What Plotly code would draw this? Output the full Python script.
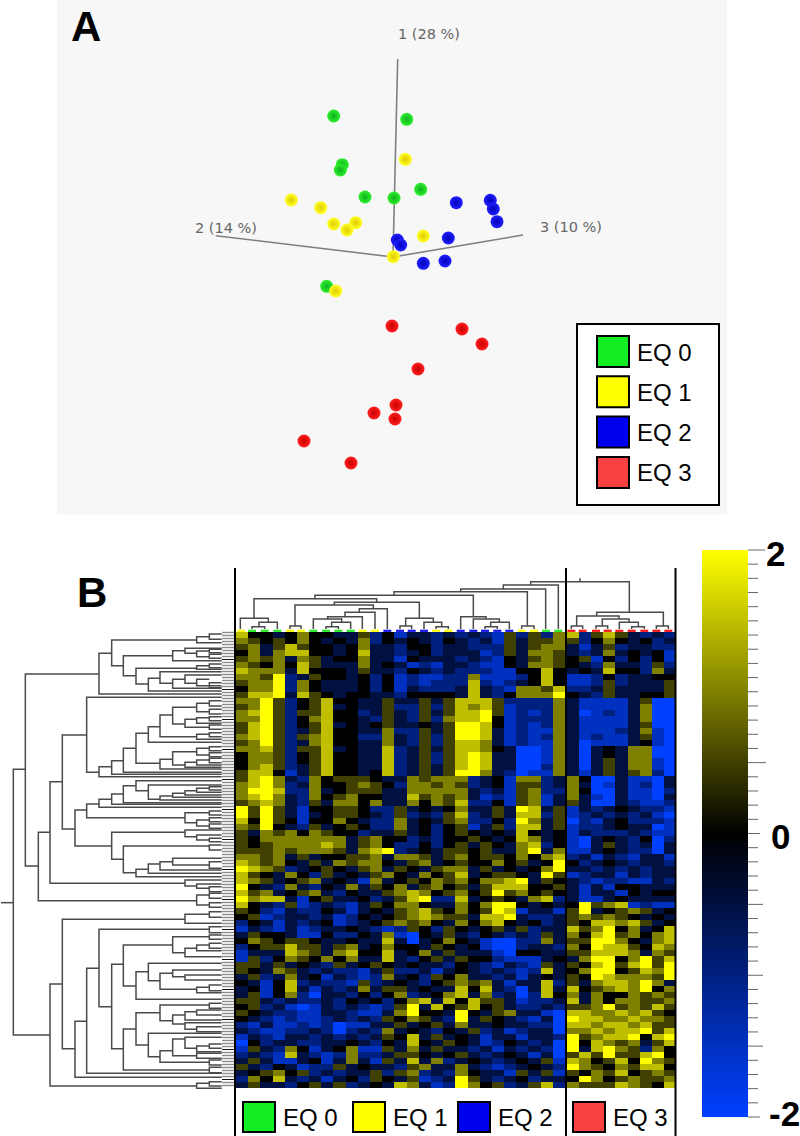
import plotly.graph_objects as go

# ---- panel A: PCA scores, read in page units
GREEN_X = [333.7, 406.7, 342.3, 340.3, 365, 394, 420.7, 326.7]
GREEN_Y = [116, 119.3, 164.7, 170, 197, 198, 189.3, 286.3]
YELLOW_X = [405.3, 291.3, 320.7, 333.7, 355.7, 347, 423.3, 393.3, 335.7]
YELLOW_Y = [159.3, 200, 207.7, 224, 222.7, 230, 236, 256.7, 291]
BLUE_X = [456.3, 490.3, 493.3, 497, 397.3, 400.7, 448.3, 423.3, 445]
BLUE_Y = [202.7, 200.3, 209, 221.7, 240, 245, 238, 263.3, 261]
RED_X = [392, 462, 482, 418, 396, 374, 395, 304, 351]
RED_Y = [326, 329, 344, 369, 405, 413, 419, 441, 463]
AXIS_ENDS = [(397.7, 59), (215.7, 235.7), (523, 235)]
AXIS_ORIGIN = (393, 257)
AXIS_LABELS = ["1 (28 %)", "2 (14 %)", "3 (10 %)"]
GROUP_LABELS = ["EQ 0", "EQ 1", "EQ 2", "EQ 3"]
GROUP_COLORS = ["#12ee22", "#ffff00", "#0000f0", "#f84040"]

# ---- panel B: heat map levels, 0 = -2 ... 4 = 0 ... 8 = +2
HEAT_LEFT_A = [
 "744346443352413323232152526", "654546434362434324323153556", "563575443463324423322253566",
 "463677443473323423331253665", "565636534463314333232143565", "654647533363431213321143665",
 "766637444353324323222114474", "665823544342412112261112474", "566826433342412122272123474",
 "466826433342413222373216657", "577837543443324444373246668",
 "668524574433533535777522226", "568524573433522525767512226", "678525574423532535778512126",
 "668524674432532526778412226", "578524573434533435887412126", "578523574433622535887312116",
 "678525674422632525887312126", "568523674433632525776312116", "667525573433723535776430016",
 "466524574433723525787330016", "466524574433723525787330016", "467523574433723535787330026",
 "577413574434723535886320116", "578632645554336566623416623", "678623644565426656523415523",
 "688722634555336666632315622", "678632645644337565631215613", "567632536646336465722415613",
 "858531445542253434633538735", "858531345543252325723537725", "748541446432263435622428635",
 "658432534542263424513527735", "536564654423353424543437434", "546666666356442324454347634",
 "545666676356422424535436724", "555656665367823435545336836", "665635344556366535645546467",
]
HEAT_LEFT_B = [
 "765643536566435634544645348", "876523454356354356635343468", "754364253435643645734554385",
 "765345634316345465646678354", "843263243635463564535777445", "756345632433567645645856454",
 "867731453342357822734543672", "743251232135466433646884343", "542132243134356754645871331",
 "451233231243456765537783223", "243132341234565643646743423", "132131233432125425434535233",
 "354431142243610435324323253", "465455433433730346431002263", "245575535634644354341002332",
 "133376536744734635333104433", "152465464633732453544211134", "553534325345434332432132153",
 "543653232213522313432321273", "352363413212634254633231343", "431472322152343245656313372",
 "341473132363553433747320373", "351462033242462346736230274", "553232232434246737475531223",
 "452310132321258374574532232", "543221133211368443843563310", "432121123232546532835432130",
 "213112120113353453633433220", "321122320232634324352312330", "132133232323547353431331332",
 "042332233432437435431243230", "153264134611536353323132320", "232173212622355434532343130",
 "353113413631537362343234351", "532431225343325633632123432", "345645232335256232643315351",
 "264732313425435123853234233", "353324535234376312864523572",
]
HEAT_RIGHT_A = [
 "725753232", "524643423", "313523322", "323634341", "451424241", "432633252", "343744263", "112423344",
 "112523335", "223533335", "432533445", "311113500", "311113600", "301213600", "311113600", "311113500",
 "311123610", "312113510", "301113410", "303436600", "303436600", "303536610", "303536610", "313535620",
 "640031103", "630131203", "640031102", "631031103", "530032112", "132343221", "123232310", "021342221",
 "122343301", "132223211", "103432402", "103532303", "113432203", "231321331",
]
HEAT_RIGHT_B = [
 "423432332", "332323233", "123313233", "321221132", "313144333", "313314344", "311343333", "485671211",
 "583456534", "565654343", "547767534", "756846347", "647856467", "558864367", "648775476", "557776365",
 "368846857", "547857858", "468845768", "548766658", "536776863", "745676846", "636446565", "736466556",
 "556856575", "776676754", "877667665", "776776755", "667677857", "856778478", "847656357", "837865264",
 "575855784", "764574865", "865465774", "546574565", "486456556", "655576547",
]
COLUMN_GROUP = [1, 0, 0, 0, 1, 1, 0, 0, 0, 0, 1, 1, 2, 2, 2, 2, 1, 1, 2, 2, 2, 2, 2, 1, 1, 0, 0, 3, 3, 3, 3, 3, 3, 3, 3, 3]
COLOR_TICKS = [2, 0, -2]

# ---- dendrograms: (node, end a, child a, end b, child b) in tree units
ROW_TREE = [
 (40,448,76,1245,150),(76,162,297,738,115),(297,100,335,222,665),(335,60,590,137,370),(370,107,518,167,408),
 (518,92,555,122,665),(555,85,665,100,590),(590,93,628,110,628),(628,88,665,98,665),(628,103,665,115,665),
 (590,50,628,68,665),(628,42,665,58,665),(408,145,590,192,445),(590,137,628,148,665),(628,132,665,143,665),
 (445,175,480,213,665),(480,155,665,190,518),(518,178,555,205,665),(555,165,665,190,590),(590,178,628,197,665),(628,188,665,203,665),
 (115,637,150,842,590),(150,485,187,790,555),(187,345,260,627,225),(260,232,665,457,297),(297,440,335,470,665),
 (335,422,370,463,665),(370,385,408,457,665),(408,340,445,430,480),(445,320,480,367,665),(480,285,518,350,590),
 (518,262,590,312,555),(590,250,628,275,628),(628,242,665,258,665),(628,268,665,282,665),(555,298,590,322,628),
 (590,293,628,310,665),(628,290,665,302,665),(628,315,665,328,665),(590,343,628,358,665),(628,338,665,350,665),
 (480,418,518,447,665),(518,395,590,435,555),(590,385,628,405,628),(628,380,665,392,665),(628,398,665,410,665),
 (555,427,590,442,665),(590,420,628,435,665),(628,415,665,428,665),
 (225,570,260,678,335),(260,552,297,593,555),(297,538,335,562,665),(335,522,370,553,665),(370,497,408,548,665),
 (408,482,665,512,445),(445,495,665,538,480),(480,528,518,540,665),(518,520,555,532,665),(555,512,590,525,665),
 (590,505,628,517,665),(628,500,665,510,665),(555,578,628,608,590),(628,573,665,585,665),(590,600,628,618,628),
 (628,593,665,605,665),(628,612,665,625,665),(335,637,555,718,370),(555,630,665,650,590),(590,645,665,660,628),(628,655,665,665,665),
 (370,678,628,758,408),(628,675,665,690,665),(408,748,445,770,665),(445,732,480,760,665),(480,725,518,750,665),
 (518,715,665,735,628),(628,725,665,745,665),(555,780,665,798,590),(590,792,665,805,628),(628,800,665,815,665),
 (590,825,628,855,628),(628,820,665,835,665),(628,848,665,862,665),
 (150,1092,187,1398,590),(187,898,555,1286,225),(555,883,628,910,665),(628,875,665,892,665),(225,1204,260,1372,665),
 (260,1045,297,1360,665),(297,928,628,1160,335),(628,920,665,938,665),(335,1033,370,1286,370),(370,975,518,1098,408),
 (518,950,628,998,555),(628,945,665,958,665),(555,985,590,1010,665),(590,975,628,992,665),(628,970,665,985,665),
 (408,1055,445,1138,665),(445,1030,665,1082,480),(480,1060,518,1108,590),(518,1050,665,1070,555),(555,1065,665,1080,665),
 (590,1102,628,1118,665),(628,1095,665,1112,665),(370,1227,408,1350,628),(628,1342,665,1358,665),(408,1178,480,1275,445),
 (480,1155,628,1202,518),(628,1150,665,1165,665),(518,1185,555,1212,555),(555,1175,590,1200,665),(590,1170,665,1185,665),
 (555,1208,665,1228,590),(590,1220,665,1235,665),(445,1240,665,1310,480),(480,1292,518,1327,628),(518,1257,555,1307,590),
 (555,1252,665,1285,590),(590,1278,628,1295,665),(628,1272,665,1285,665),(590,1300,665,1315,665),(628,1320,665,1335,665),
 (590,1390,628,1405,665),(628,1385,665,1398,665),
]
ROW_ROOT_STUB = (3, 40, 848)
COL_TREE = [
 (185,66,192,104,192),(172,87,185,142,192),(160,31,192,115,172),(183,180,192,213,192),(120,195,183,430,131),(131,388,142,472,192),
 (142,345,155,435,192),(155,293,162,397,192),(162,250,192,335,172),(172,305,185,362,192),(185,288,192,325,192),
 (160,527,183,610,172),(183,510,192,545,192),(172,582,192,635,185),(185,618,192,655,192),(112,313,120,568,160),(101,72,160,440,112),
 (155,692,192,768,162),(162,730,192,808,172),(172,782,185,838,192),(185,765,192,802,192),(91,255,101,730,155),
 (183,875,192,912,192),(80,492,91,892,183),(72,692,80,947,192),(60,820,72,985,192),(50,902,60,1198,142),
 (142,1100,153,1300,183),(183,1279,192,1315,192),(153,1040,183,1167,162),(183,1024,192,1058,192),(162,1117,183,1197,172),
 (183,1098,192,1133,192),(172,1168,192,1225,185),(185,1205,192,1243,192),
]
COL_LEAF_POS = [33,66,104,142,180,213,250,288,325,362,398,435,472,510,545,582,618,655,692,730,765,802,838,875,912,948,985,
                1024,1058,1098,1133,1168,1205,1243,1279,1315]

COLORSCALE = [[0, "#0040ff"], [0.5, "#000000"], [1, "#ffff00"]]


def to_values(rows):
    return [[(int(c) - 4) / 2 for c in r] for r in rows]


fig = go.Figure()
LAB = "Liberation Sans"

# heat maps
left = to_values(HEAT_LEFT_A + HEAT_LEFT_B)
right = to_values(HEAT_RIGHT_A + HEAT_RIGHT_B)
row_h = 456 / len(left)
for z, x_a, width in [(left, 236, 329), (right, 567, 109)]:
    dx = width / len(z[0])
    fig.add_trace(go.Heatmap(z=z, x0=x_a + dx / 2, dx=dx, y0=632 + row_h / 2, dy=row_h, zmin=-2, zmax=2,
                             colorscale=COLORSCALE, showscale=False, hoverinfo="skip"))

# colour bar
bar_levels = [2 - 4 * i / 200 for i in range(201)]
bar_dy = 567 / 201
fig.add_trace(go.Heatmap(z=[[v] for v in bar_levels], x0=725, dx=46, y0=550 + bar_dy / 2, dy=bar_dy, zmin=-2, zmax=2,
                         colorscale=COLORSCALE, showscale=False, hoverinfo="skip"))
tx, ty = [], []
LONG = {0: 17, 15: 18, 20: 12, 25: 15, 30: 15, 35: 15, 40: 12}
for i in range(41):
    y = 550 + i * 567 / 40
    tx += [748, 748 + LONG.get(i, 10), None]
    ty += [y, y, None]
fig.add_trace(go.Scatter(x=tx, y=ty, mode="lines", line=dict(color="#666666", width=1), hoverinfo="skip"))


def lines(color, width, xs, ys):
    fig.add_trace(go.Scatter(x=xs, y=ys, mode="lines", line=dict(color=color, width=width), hoverinfo="skip"))


# row dendrogram
tx, ty = [], []
for node, ya, ca, yb, cb in ROW_TREE:
    tx += [ca / 3, node / 3, node / 3, cb / 3, None]
    ty += [620 + ya / 3, 620 + ya / 3, 620 + yb / 3, 620 + yb / 3, None]
s0, s1, sy = ROW_ROOT_STUB
tx += [s0 / 3, s1 / 3, None]
ty += [620 + sy / 3, 620 + sy / 3, None]
lines("#4a4a4a", 1.5, tx, ty)
# leaf ticks of the row tree
tx, ty, bx, by = [], [], [], []
for i in range(152):
    y = 632.5 + i * 3
    if i % 10 == 9:
        bx += [222, 235, None]
        by += [y, y, None]
    else:
        tx += [222, 235, None]
        ty += [y, y, None]
lines("#8c8c8c", 1.4, tx, ty)
lines("#111111", 1, bx, by)

# column dendrogram
tx, ty = [], []
for level, xa, ya, xb, yb in COL_TREE:
    tx += [230 + xa / 3, 230 + xa / 3, 230 + xb / 3, 230 + xb / 3, None]
    ty += [565 + ya / 3, 565 + level / 3, 565 + level / 3, 565 + yb / 3, None]
tx += [230 + 1050 / 3, 230 + 1050 / 3, None]
ty += [565 + 40 / 3, 565 + 50 / 3, None]
lines("#4a4a4a", 1.5, tx, ty)
for g, col in enumerate(["#22ee22", "#ffff00", "#1111ee", "#ff1111"]):
    tx, ty = [], []
    for p, cg in zip(COL_LEAF_POS, COLUMN_GROUP):
        if cg == g:
            tx += [230 + (p - 12) / 3, 230 + (p + 12) / 3, None]
            ty += [630.8, 630.8, None]
    lines(col, 2.2, tx, ty)

# PCA axes
tx, ty = [], []
for ex, ey in AXIS_ENDS:
    tx += [ex, AXIS_ORIGIN[0], None]
    ty += [ey, AXIS_ORIGIN[1], None]
lines("#808080", 1.6, tx, ty)

# PCA spheres
for xs, ys, c, edge in [(GREEN_X, GREEN_Y, "#2cf02c", "#10b020"), (YELLOW_X, YELLOW_Y, "#ffff20", "#e0cc00"),
                        (BLUE_X, BLUE_Y, "#2020ff", "#0000b8"), (RED_X, RED_Y, "#ff2020", "#c80000")]:
    fig.add_trace(go.Scatter(x=xs, y=ys, mode="markers", hoverinfo="skip",
                             marker=dict(size=13, color=c, line=dict(width=0), gradient=dict(type="radial", color=edge))))

shapes = [
    dict(type="rect", x0=57, x1=727, y0=0, y1=515, fillcolor="#f7f7f7", line_width=0, layer="below"),
    dict(type="rect", x0=577, x1=719, y0=324, y1=505, fillcolor="#ffffff", line=dict(color="#000000", width=2)),
]
for x in (235, 566, 675.5):
    shapes.append(dict(type="line", x0=x, x1=x, y0=568, y1=1136, line=dict(color="#000000", width=2)))
ann = []


def text(x, y, s, size, color="#000000", bold=False, family=LAB, anchor="center"):
    ann.append(dict(x=x, y=y, text=f"<b>{s}</b>" if bold else s, showarrow=False, xanchor=anchor, yanchor="middle",
                    font=dict(size=size, color=color, family=family)))


for i, (lab, col) in enumerate(zip(GROUP_LABELS, GROUP_COLORS)):
    y0 = 336 + i * 40.3
    shapes.append(dict(type="rect", x0=597, x1=629, y0=y0, y1=y0 + 31, fillcolor=col, line=dict(color="#000000", width=2)))
    text(635, y0 + 16, lab, 24, anchor="left")
for lab, col, x0, tx0 in zip(GROUP_LABELS, GROUP_COLORS, [243, 353, 458, 573], [283, 393, 498, 613]):
    shapes.append(dict(type="rect", x0=x0, x1=x0 + 32, y0=1102, y1=1132, fillcolor=col, line=dict(color="#000000", width=2)))
    text(tx0 - 2, 1117, lab, 24, anchor="left")

for lab, (x, y) in zip(AXIS_LABELS, [(429, 34), (226, 228), (571, 227)]):
    text(x, y, lab, 14.5, color="#666666", family="DejaVu Sans")
text(86, 26, "A", 42, bold=True)
text(92, 592, "B", 42, bold=True)
for v, (x, y) in zip(COLOR_TICKS, [(775, 553), (780, 836), (784, 1113)]):
    text(x, y, str(v), 35, bold=True)

fig.update_layout(width=800, height=1136, margin=dict(l=0, r=0, t=0, b=0), showlegend=False,
                  paper_bgcolor="#ffffff", plot_bgcolor="#ffffff", shapes=shapes, annotations=ann,
                  xaxis=dict(range=[0, 800], visible=False, fixedrange=True),
                  yaxis=dict(range=[1136, 0], visible=False, fixedrange=True))
fig.write_html("out.html", post_script="document.body.style.margin='0';", config={"displayModeBar": False})
